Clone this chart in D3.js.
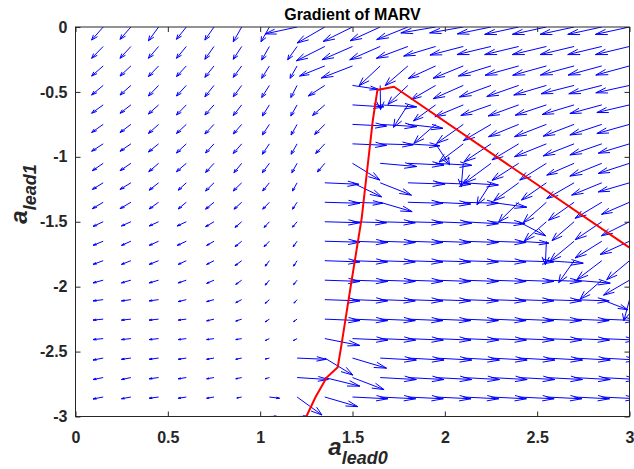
<!DOCTYPE html>
<html>
<head>
<meta charset="utf-8">
<script src="https://cdn.jsdelivr.net/npm/d3@7"></script>
<style>
  body { margin: 0; background: #fff; }
  svg { display: block; font-family: "Liberation Sans", Arial, sans-serif; }
</style>
</head>
<body>
<script>
// grid of the quiver (a_lead0 across, a_lead1 down)
const xGrid = [0.15, 0.3, 0.45, 0.6, 0.75, 0.9, 1.05, 1.2, 1.35, 1.5, 1.65, 1.8, 1.95, 2.1, 2.25, 2.4, 2.55, 2.7, 2.85, 3.0];
const yGrid = [0, -0.15, -0.3, -0.45, -0.6, -0.75, -0.9, -1.05, -1.2, -1.35, -1.5, -1.65, -1.8, -1.95, -2.1, -2.25, -2.4, -2.55, -2.7, -2.85, -3.0];

// gradient components, one row per yGrid value (null = no arrow)
const U = [
  [-0.33,-0.31,-0.29,-0.28,-0.26,-0.24,-0.24,-0.91,-0.79,-0.84,-0.86,-0.89,-0.99,-0.96,-0.96,-0.97,-0.97,-0.97,-0.97,-0.97],
  [-0.33,-0.31,-0.29,-0.28,-0.26,-0.24,-0.22,-0.27,-0.81,-0.87,-0.87,-0.9,-0.91,-0.95,-0.97,-0.97,-0.97,-0.97,-0.97,-0.97],
  [-0.33,-0.31,-0.29,-0.28,-0.26,-0.24,-0.22,-0.2,-0.72,-0.89,-0.6,-0.65,-0.78,-0.86,-0.93,-0.96,-0.96,-0.96,-0.96,-0.96],
  [-0.33,-0.31,-0.29,-0.28,-0.26,-0.24,-0.22,-0.18,-0.47,0.74,0.01,-0.57,-0.69,-0.86,-0.9,-0.91,-0.93,-0.94,-0.94,-0.96],
  [-0.33,-0.31,-0.29,-0.28,-0.26,-0.24,-0.2,-0.18,-0.35,0.89,1.04,-0.41,-0.63,-0.81,-0.86,-0.87,-0.89,-0.91,-0.91,-0.93],
  [-0.33,-0.31,-0.29,-0.28,-0.26,-0.24,-0.2,-0.17,-0.29,0.97,1.04,1.0,-0.62,-0.76,-0.79,-0.86,-0.91,-0.88,-0.91,-0.93],
  [-0.33,-0.31,-0.29,-0.28,-0.24,-0.24,-0.2,-0.17,-0.26,0.97,0.94,0.91,0.4,-0.69,-0.77,-0.76,-0.91,-0.88,-0.91,-0.89],
  [-0.31,-0.31,-0.28,-0.28,-0.24,-0.22,-0.2,-0.15,-0.21,0.78,1.04,1.03,1.03,-0.06,-0.77,-0.76,-0.76,-0.78,-0.91,-0.89],
  [-0.31,-0.31,-0.27,-0.23,-0.24,-0.24,-0.19,-0.13,0.97,0.83,0.89,1.06,1.0,1.0,-0.4,-0.71,-0.71,-0.78,-0.86,-0.89],
  [-0.31,-0.31,-0.27,-0.23,-0.24,-0.22,-0.19,-0.13,1.0,0.86,0.91,1.0,1.0,1.0,1.02,-0.57,-0.66,-0.73,-0.76,-0.8],
  [-0.29,-0.27,-0.27,-0.26,-0.24,-0.19,-0.15,-0.13,1.0,0.97,1.0,1.0,1.03,1.0,0.97,0.77,-0.63,-0.63,-0.76,-0.8],
  [-0.29,-0.27,-0.27,-0.26,-0.21,-0.19,-0.15,-0.11,1.0,1.0,1.0,1.0,1.0,1.0,1.0,0.86,-0.03,-0.69,-0.76,-0.84],
  [-0.29,-0.27,-0.27,-0.23,-0.21,-0.19,-0.12,-0.1,1.0,1.0,1.0,1.0,1.0,1.0,1.0,1.0,1.05,-0.44,-0.71,-0.65],
  [-0.29,-0.27,-0.27,-0.23,-0.21,-0.17,-0.12,-0.1,1.0,1.0,1.0,1.0,1.0,1.0,1.0,1.0,1.0,1.03,-0.62,-0.74],
  [-0.29,-0.27,-0.27,-0.23,-0.21,-0.17,-0.12,-0.09,1.0,1.0,1.0,1.0,1.0,1.0,1.0,1.0,1.0,1.0,0.74,-0.16],
  [-0.29,-0.27,-0.27,-0.23,-0.21,-0.17,-0.12,-0.1,1.0,1.0,1.0,1.0,1.0,1.0,1.0,1.0,1.0,1.0,1.0,1.0],
  [-0.29,-0.27,-0.27,-0.23,-0.21,-0.17,-0.12,-0.11,1.0,1.01,1.01,1.01,1.01,1.01,1.01,1.01,1.01,1.01,1.01,1.01],
  [-0.29,-0.27,-0.27,-0.23,-0.21,-0.17,-0.12,0.83,0.8,0.97,1.03,1.03,1.03,1.03,1.03,1.03,1.03,1.03,1.03,1.03],
  [-0.29,-0.27,-0.27,-0.23,-0.21,-0.17,-0.12,0.89,1.0,0.9,1.03,1.03,1.03,1.03,1.03,1.03,1.03,1.03,1.03,1.03],
  [-0.29,-0.27,-0.27,-0.23,-0.21,-0.14,0.29,0.71,0.94,1.01,1.01,1.01,1.01,1.01,1.01,1.01,1.01,1.01,1.01,1.01],
  [null,null,null,null,null,null,0.2,0.26,null,null,null,null,null,null,null,null,null,null,null,null]
];
const V = [
  [-0.53,-0.5,-0.56,-0.5,-0.53,-0.6,-0.6,-0.28,-0.65,-0.59,-0.56,-0.51,-0.24,-0.24,-0.28,-0.3,-0.3,-0.3,-0.3,-0.3],
  [-0.48,-0.48,-0.48,-0.48,-0.52,-0.52,-0.55,-0.54,-0.58,-0.54,-0.54,-0.48,-0.39,-0.35,-0.33,-0.33,-0.33,-0.33,-0.33,-0.33],
  [-0.41,-0.41,-0.43,-0.43,-0.46,-0.46,-0.5,-0.5,-0.41,-0.49,-0.8,-0.8,-0.51,-0.5,-0.41,-0.38,-0.38,-0.37,-0.37,-0.37],
  [-0.39,-0.39,-0.43,-0.43,-0.46,-0.46,-0.49,-0.49,-0.43,-0.16,-0.98,-0.77,-0.57,-0.54,-0.47,-0.45,-0.39,-0.34,-0.34,-0.3],
  [-0.34,-0.34,-0.37,-0.41,-0.41,-0.43,-0.45,-0.45,-0.43,-0.08,-0.08,-0.91,-0.65,-0.48,-0.43,-0.45,-0.42,-0.39,-0.35,-0.31],
  [-0.33,-0.33,-0.37,-0.37,-0.39,-0.39,-0.43,-0.43,-0.41,-0.07,-0.09,-0.16,-0.77,-0.77,-0.66,-0.5,-0.5,-0.48,-0.43,-0.37],
  [-0.3,-0.3,-0.33,-0.37,-0.37,-0.39,-0.42,-0.42,-0.39,-0.06,-0.04,-0.08,-0.85,-0.74,-0.73,-0.65,-0.52,-0.49,-0.45,-0.38],
  [-0.3,-0.3,-0.34,-0.34,-0.37,-0.38,-0.38,-0.38,-0.35,-0.68,-0.13,-0.07,-0.08,-0.95,-0.81,-0.69,-0.68,-0.48,-0.52,-0.41],
  [-0.27,-0.27,-0.3,-0.3,-0.33,-0.33,-0.33,-0.33,-0.06,-0.57,-0.5,-0.05,-0.06,-0.09,-0.89,-0.73,-0.7,-0.64,-0.5,-0.37],
  [-0.26,-0.26,-0.27,-0.27,-0.28,-0.28,-0.28,-0.28,-0.04,-0.04,-0.38,-0.04,-0.07,-0.04,-0.2,-0.8,-0.83,-0.73,-0.65,-0.49],
  [-0.19,-0.17,-0.17,-0.17,-0.2,-0.23,-0.23,-0.22,-0.04,-0.04,-0.04,-0.04,-0.06,-0.08,-0.08,-0.57,-0.78,-0.77,-0.73,-0.57],
  [-0.17,-0.17,-0.17,-0.17,-0.17,-0.22,-0.22,-0.22,-0.04,-0.05,-0.05,-0.05,-0.05,-0.05,-0.05,-0.08,-0.95,-0.81,-0.68,-0.54],
  [-0.15,-0.15,-0.15,-0.15,-0.15,-0.2,-0.22,-0.22,-0.05,-0.05,-0.05,-0.05,-0.05,-0.05,-0.05,-0.05,-0.1,-0.89,-0.77,-0.77],
  [-0.11,-0.11,-0.11,-0.11,-0.13,-0.17,-0.2,-0.18,-0.05,-0.05,-0.05,-0.05,-0.05,-0.05,-0.05,-0.05,-0.05,-0.12,-0.77,-0.61],
  [-0.05,-0.05,-0.05,-0.08,-0.08,-0.12,-0.15,-0.14,-0.05,-0.05,-0.05,-0.05,-0.05,-0.05,-0.05,-0.05,-0.05,-0.05,-0.41,-0.85],
  [-0.04,-0.04,-0.04,-0.04,-0.07,-0.08,-0.11,-0.1,-0.06,-0.06,-0.06,-0.06,-0.06,-0.06,-0.06,-0.06,-0.06,-0.06,-0.06,-0.06],
  [-0.04,-0.04,-0.04,-0.04,-0.04,-0.04,-0.08,-0.08,-0.28,-0.06,-0.06,-0.06,-0.06,-0.06,-0.06,-0.06,-0.06,-0.06,-0.06,-0.06],
  [-0.08,-0.05,-0.05,-0.05,-0.05,-0.05,-0.04,-0.05,-0.69,-0.41,-0.08,-0.08,-0.08,-0.08,-0.08,-0.08,-0.08,-0.08,-0.08,-0.08],
  [-0.08,-0.08,-0.05,-0.05,-0.05,-0.05,-0.05,-0.08,-0.35,-0.49,-0.08,-0.08,-0.08,-0.08,-0.08,-0.08,-0.08,-0.08,-0.08,-0.08],
  [-0.08,-0.07,-0.05,-0.05,-0.05,-0.04,-0.05,-0.73,-0.39,-0.07,-0.07,-0.07,-0.07,-0.07,-0.07,-0.07,-0.07,-0.07,-0.07,-0.07],
  [null,null,null,null,null,null,0.01,0.01,null,null,null,null,null,null,null,null,null,null,null,null]
];

// red boundary line
const ridgeX = [1.25, 1.30, 1.36, 1.42, 1.44, 1.49, 1.55, 1.61, 1.635, 1.725, 3.0];
const ridgeY = [-3.0, -2.85, -2.70, -2.62, -2.45, -2.0, -1.47, -0.72, -0.485, -0.46, -1.70];

const xTicks = [0, 0.5, 1, 1.5, 2, 2.5, 3];
const yTicks = [0, -0.5, -1, -1.5, -2, -2.5, -3];

const W = 634, H = 469;
const arrowScale = 0.19;   // data units per gradient unit
const alpha = 0.33, beta = 0.33; // arrow head size, width
const axisColor = '#262626';

const svg = d3.select('body').append('svg').attr('width', W).attr('height', H);
svg.append('rect').attr('width', W).attr('height', H).attr('fill', '#fff');

const x = d3.scaleLinear().domain([0, 3]).range([75.5, 629.5]);
const y = d3.scaleLinear().domain([-3, 0]).range([416.5, 27]);

svg.append('defs').append('clipPath').attr('id', 'clip')
  .append('rect')
  .attr('x', x(0)).attr('y', y(0))
  .attr('width', x(3) - x(0)).attr('height', y(-3) - y(0));

const arrows = [];
yGrid.forEach((yv, j) => {
  xGrid.forEach((xv, k) => {
    const u = U[j][k], v = V[j][k];
    if (u == null || v == null) return;
    arrows.push({ x0: xv, y0: yv, u: u * arrowScale, v: v * arrowScale });
  });
});

const arrowPath = (d) => {
  const x1 = d.x0 + d.u, y1 = d.y0 + d.v;
  const hx1 = x1 - alpha * (d.u + beta * d.v), hy1 = y1 - alpha * (d.v - beta * d.u);
  const hx2 = x1 - alpha * (d.u - beta * d.v), hy2 = y1 - alpha * (d.v + beta * d.u);
  return `M${x(d.x0)},${y(d.y0)}L${x(x1)},${y(y1)}` +
    `M${x(hx1)},${y(hy1)}L${x(x1)},${y(y1)}L${x(hx2)},${y(hy2)}`;
};

const plot = svg.append('g').attr('clip-path', 'url(#clip)');

plot.selectAll('path.arrow')
  .data(arrows)
  .enter()
  .append('path')
  .attr('class', 'arrow')
  .attr('d', arrowPath)
  .attr('fill', 'none')
  .attr('stroke', '#0000ff')
  .attr('stroke-width', 1);

const ridge = d3.line().x((d) => x(d[0])).y((d) => y(d[1]));
plot.append('path')
  .datum(ridgeX.map((v, i) => [v, ridgeY[i]]))
  .attr('d', ridge)
  .attr('fill', 'none')
  .attr('stroke', '#ff0000')
  .attr('stroke-width', 2);

// axes, MATLAB style: box with inward ticks
const fmt = (d) => String(d);
const styleAxis = (g) => {
  g.select('.domain').remove();
  g.selectAll('.tick line').attr('stroke', axisColor);
  g.selectAll('.tick text')
    .attr('fill', axisColor)
    .style('font-size', '16px')
    .style('font-weight', 'bold');
};

svg.append('g')
  .attr('transform', `translate(0,${y(-3)})`)
  .call(d3.axisBottom(x).tickValues(xTicks).tickFormat(fmt).tickSizeInner(-5).tickSizeOuter(0).tickPadding(15))
  .call(styleAxis);
svg.append('g')
  .attr('transform', `translate(0,${y(0)})`)
  .call(d3.axisTop(x).tickValues(xTicks).tickFormat('').tickSizeInner(-5).tickSizeOuter(0))
  .call(styleAxis);
svg.append('g')
  .attr('transform', `translate(${x(0)},0)`)
  .call(d3.axisLeft(y).tickValues(yTicks).tickFormat(fmt).tickSizeInner(-5).tickSizeOuter(0).tickPadding(8))
  .call(styleAxis);
svg.append('g')
  .attr('transform', `translate(${x(3)},0)`)
  .call(d3.axisRight(y).tickValues(yTicks).tickFormat('').tickSizeInner(-5).tickSizeOuter(0))
  .call(styleAxis);

svg.append('rect')
  .attr('x', x(0)).attr('y', y(0))
  .attr('width', x(3) - x(0)).attr('height', y(-3) - y(0))
  .attr('fill', 'none')
  .attr('stroke', axisColor)
  .attr('stroke-width', 1);

svg.append('text')
  .attr('x', (x(0) + x(3)) / 2)
  .attr('y', 20)
  .attr('text-anchor', 'middle')
  .style('font-size', '16px')
  .style('font-weight', 'bold')
  .attr('fill', '#000')
  .text('Gradient of MARV');

const xl = svg.append('text')
  .attr('x', 358)
  .attr('y', 455)
  .attr('text-anchor', 'middle')
  .attr('fill', axisColor)
  .style('font-weight', 'bold')
  .style('font-style', 'italic');
xl.append('tspan').style('font-size', '24px').text('a');
xl.append('tspan').attr('dy', 9).style('font-size', '18px').text('lead0');

const yl = svg.append('text')
  .attr('transform', 'translate(27,194) rotate(-90)')
  .attr('text-anchor', 'middle')
  .attr('fill', axisColor)
  .style('font-weight', 'bold')
  .style('font-style', 'italic');
yl.append('tspan').style('font-size', '24px').text('a');
yl.append('tspan').attr('dy', 9).style('font-size', '18px').text('lead1');
</script>
</body>
</html>
